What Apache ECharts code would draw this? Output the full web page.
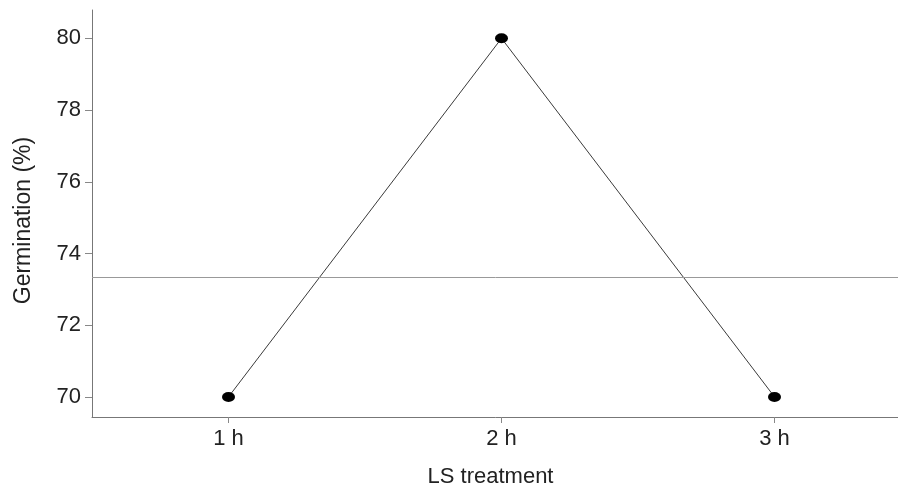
<!DOCTYPE html>
<html>
<head>
<meta charset="utf-8">
<script src="https://cdn.jsdelivr.net/npm/echarts@6/dist/echarts.min.js"></script>
<style>
  html, body { margin: 0; padding: 0; background: #ffffff; }
  #chart { width: 898px; height: 489px; }
</style>
</head>
<body>
<div id="chart"></div>
<script>
const categories = ['1 h', '2 h', '3 h'];
const germination = [70, 80, 70];
const yTickValues = [70, 72, 74, 76, 78, 80];
const yMin = 69.44;
const yMax = 80.79;

const FONT = '"Liberation Sans", Arial, Helvetica, sans-serif';
const chart = echarts.init(document.getElementById('chart'), null, { renderer: 'canvas' });

chart.setOption({
  animation: false,
  backgroundColor: '#ffffff',
  grid: {
    left: 92,
    top: 10,
    width: 819,
    bottom: 72,
    containLabel: false,
    outerBoundsMode: 'none'
  },
  xAxis: {
    type: 'category',
    data: categories,
    boundaryGap: true,
    name: 'LS treatment',
    nameLocation: 'middle',
    nameGap: 49,
    nameTextStyle: { fontFamily: FONT, fontSize: 22, color: '#222', padding: [0, 22, 0, 0] },
    axisLine: { show: true, lineStyle: { color: '#777', width: 1 } },
    axisTick: { show: true, alignWithLabel: true, length: 6, lineStyle: { color: '#888', width: 1 } },
    axisLabel: { fontFamily: FONT, fontSize: 22, color: '#222', margin: 11 },
    splitLine: { show: false }
  },
  yAxis: {
    type: 'value',
    min: yMin,
    max: yMax,
    name: 'Germination (%)',
    nameLocation: 'middle',
    nameRotate: 90,
    nameGap: 57,
    nameTextStyle: { fontFamily: FONT, fontSize: 23, color: '#222', padding: [0, 14, 0, 0] },
    axisLine: { show: true, lineStyle: { color: '#777', width: 1 } },
    axisTick: { show: true, length: 7, customValues: yTickValues, lineStyle: { color: '#888', width: 1 } },
    axisLabel: { fontFamily: FONT, fontSize: 22, color: '#222', margin: 11, customValues: yTickValues },
    splitLine: { show: false }
  },
  series: [{
    type: 'line',
    data: germination,
    symbol: 'circle',
    symbolSize: [13, 10],
    itemStyle: { color: '#000' },
    lineStyle: { color: '#3a3a3a', width: 1 },
    markLine: {
      silent: true,
      symbol: 'none',
      label: { show: false },
      lineStyle: { color: '#999', width: 1, type: 'solid' },
      data: [{ type: 'average' }]
    }
  }]
});
</script>
</body>
</html>
